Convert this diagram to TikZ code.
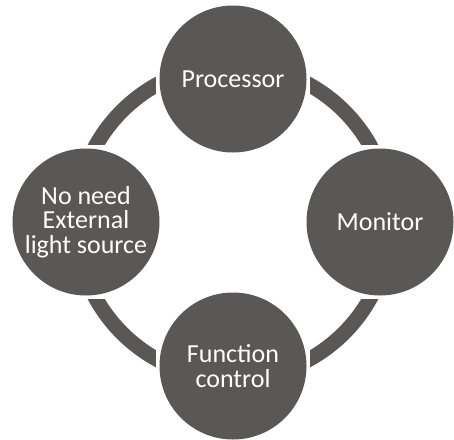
\documentclass[tikz,border=0pt]{standalone}
\usepackage{fontspec}
\setmainfont{Carlito}
\definecolor{cgray}{RGB}{89,88,86}
\begin{document}
\begin{tikzpicture}[x=1pt,y=-1pt,
  cutbox/.style={rectangle,fill=white,minimum size=154pt,inner sep=0pt},
  bubble/.style={circle,fill=cgray,minimum size=147pt,inner sep=0pt,text=white,align=center,
    font=\fontsize{26pt}{24.5pt}\selectfont},
  ring/.style={draw=cgray,line width=15pt}]
\useasboundingbox (0,0) rectangle (454,439);
\coordinate (c) at (233,222);
\draw[ring] (c) circle[radius=157pt];
\node[cutbox] (tq) at (233,79) {};
\node[cutbox] (rq) at (380,222) {};
\node[cutbox] (bq) at (233,366) {};
\node[cutbox] (lq) at (86,222) {};
\node[bubble] (top) at (233,79) {Processor};
\node[bubble] (right) at (380,222) {Monitor};
\node[bubble] (bottom) at (233,366) {Function\\control};
\node[bubble] (left) at (86,222) {No need\\External\\light source};
\end{tikzpicture}
\end{document}
